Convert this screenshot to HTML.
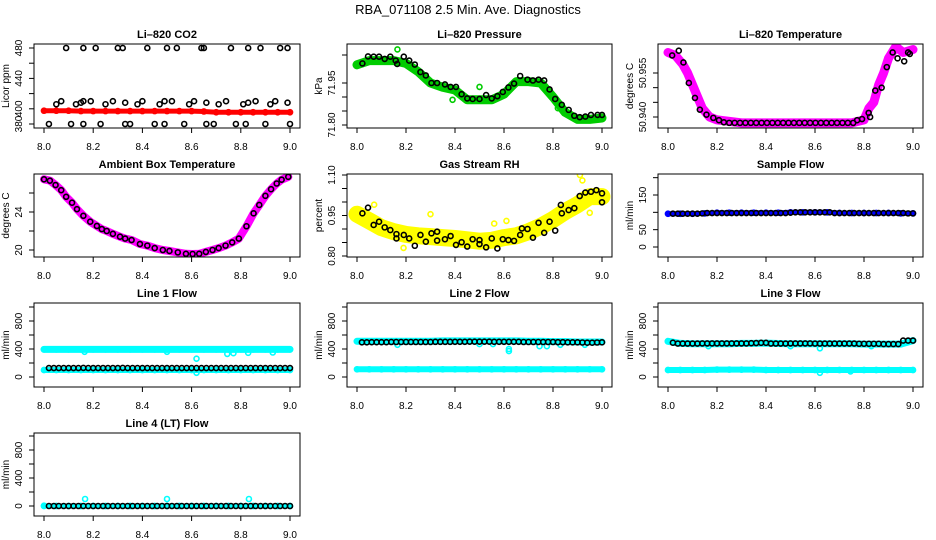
<!DOCTYPE html>
<html><head><meta charset="utf-8"><style>
html,body{margin:0;padding:0;background:#fff;}
svg{display:block;font-family:"Liberation Sans",Arial,sans-serif;}
</style></head><body>
<svg id="chart" width="936" height="540" viewBox="0 0 936 540">
<text x="468" y="14" text-anchor="middle" font-size="13">RBA_071108  2.5 Min. Ave. Diagnostics</text>
</svg>
<script>
// ---------- time axes ----------
const T21 = [8.0,8.05,8.1,8.15,8.2,8.25,8.3,8.35,8.4,8.45,8.5,8.55,8.6,8.65,8.7,8.75,8.8,8.85,8.9,8.95,9.0];
const T50 = [8.02,8.04,8.06,8.08,8.1,8.12,8.14,8.16,8.18,8.2,8.22,8.24,8.26,8.28,8.3,8.32,8.34,8.36,8.38,8.4,8.42,8.44,8.46,8.48,8.5,8.52,8.54,8.56,8.58,8.6,8.62,8.64,8.66,8.68,8.7,8.72,8.74,8.76,8.78,8.8,8.82,8.84,8.86,8.88,8.9,8.92,8.94,8.96,8.98,9.0];
const xTicks = [8.0,8.2,8.4,8.6,8.8,9.0];
const xTickLabels = ["8.0","8.2","8.4","8.6","8.8","9.0"];

// ---------- CO2 ----------
const co2Red = [397.5,397.5,397.5,397,397,397,397,397,397,397,397,397,397,396.5,395.5,395.5,395.5,395.5,395.5,395.5,395.5];
const co2BlackT = [8.09,8.16,8.21,8.30,8.32,8.42,8.50,8.54,8.64,8.65,8.76,8.83,8.88,8.96,8.99,
 8.02,8.11,8.16,8.23,8.33,8.35,8.45,8.49,8.57,8.66,8.69,8.78,8.82,8.90,9.0,
 8.05,8.07,8.13,8.15,8.16,8.19,8.25,8.28,8.33,8.38,8.40,8.47,8.49,8.52,8.59,8.61,8.66,8.71,8.74,8.81,8.83,8.86,8.92,8.94,8.99];
const co2BlackV = [480,480,480,480,480,480,480,480,480,480,480,480,480,480,480,
 380,380,380,380,380,380,380,380,380,380,380,380,380,380,380,
 406,410,406,408,410,410,406,410,408,406,410,406,410,410,406,410,408,406,410,406,408,410,406,410,408];

// ---------- Pressure ----------
const presGreen = [72.015,72.03,72.03,72.03,72.02,71.99,71.95,71.935,71.925,71.89,71.89,71.89,71.91,71.955,71.955,71.95,71.90,71.845,71.82,71.82,71.825];
const presGreenOutT = [8.165,8.5,8.39,8.82];
const presGreenOutV = [72.07,71.936,71.89,71.86];
const presBlackT = [8.022,8.045,8.068,8.09,8.113,8.136,8.158,8.164,8.191,8.213,8.236,8.259,8.281,8.304,8.327,8.359,8.382,8.404,8.427,8.45,8.472,8.5,8.527,8.55,8.573,8.595,8.618,8.641,8.666,8.696,8.718,8.741,8.764,8.786,8.809,8.836,8.864,8.887,8.909,8.932,8.955,8.982,9.0];
const presBlackV = [72.02,72.045,72.044,72.044,72.036,72.044,72.03,72.018,72.044,72.03,72.016,71.989,71.977,71.95,71.95,71.945,71.936,71.936,71.91,71.895,71.893,71.893,71.907,71.895,71.903,71.918,71.934,71.948,71.975,71.962,71.959,71.962,71.959,71.927,71.893,71.872,71.854,71.833,71.828,71.83,71.836,71.836,71.836];

// ---------- Li-820 Temperature ----------
const ltT = [8.0,8.03,8.06,8.08,8.1,8.12,8.14,8.17,8.2,8.25,8.3,8.4,8.5,8.6,8.7,8.75,8.8,8.82,8.84,8.86,8.88,8.9,8.93,8.96,9.0];
const ltMag = [50.962,50.961,50.958,50.955,50.951,50.947,50.943,50.940,50.939,50.9385,50.938,50.938,50.938,50.938,50.938,50.938,50.939,50.943,50.945,50.951,50.955,50.960,50.964,50.962,50.963];
const ltBlackT = [8.017,8.044,8.063,8.085,8.11,8.13,8.157,8.185,8.208,8.228,8.25,8.272,8.294,8.316,8.338,8.36,8.382,8.404,8.426,8.448,8.47,8.492,8.514,8.536,8.558,8.58,8.602,8.624,8.646,8.668,8.69,8.712,8.734,8.756,8.772,8.792,8.819,8.825,8.846,8.872,8.893,8.917,8.937,8.964,8.98,8.987];
const ltBlackV = [50.961,50.9626,50.9586,50.9516,50.9465,50.9425,50.9408,50.9397,50.9389,50.9382,50.938,50.938,50.938,50.938,50.938,50.938,50.938,50.938,50.938,50.938,50.938,50.938,50.938,50.938,50.938,50.938,50.938,50.938,50.938,50.938,50.938,50.938,50.938,50.938,50.9389,50.9393,50.9414,50.940,50.949,50.950,50.957,50.962,50.960,50.959,50.962,50.9615];

// ---------- Ambient Box Temperature ----------
const ambT = [8.0,8.024,8.047,8.07,8.09,8.114,8.134,8.16,8.188,8.215,8.235,8.255,8.28,8.309,8.33,8.356,8.39,8.42,8.45,8.483,8.51,8.544,8.577,8.604,8.631,8.658,8.685,8.71,8.738,8.765,8.792,8.823,8.852,8.875,8.9,8.923,8.946,8.966,8.993];
const ambV = [27.44,27.3,26.84,26.3,25.6,24.98,24.3,23.6,22.98,22.53,22.2,22.0,21.7,21.4,21.2,21.05,20.63,20.46,20.2,20.0,19.9,19.75,19.6,19.58,19.6,19.8,20.0,20.2,20.46,20.8,21.2,22.5,23.86,24.74,25.7,26.4,27.0,27.4,27.7];

// ---------- Gas Stream RH ----------
const rhYellow = [0.955,0.93,0.905,0.89,0.88,0.875,0.872,0.868,0.865,0.86,0.855,0.858,0.868,0.875,0.89,0.91,0.935,0.965,0.99,1.02,1.02];
const rhYellowOutT = [8.07,8.30,8.91,8.92,8.61,8.95,8.19,8.56];
const rhYellowOutV = [0.99,0.955,1.10,1.08,0.93,0.96,0.83,0.92];
const rhBlackT = [8.022,8.045,8.068,8.09,8.113,8.136,8.161,8.161,8.191,8.213,8.236,8.259,8.281,8.304,8.327,8.327,8.359,8.382,8.404,8.427,8.45,8.472,8.5,8.5,8.527,8.55,8.573,8.595,8.618,8.641,8.666,8.673,8.696,8.718,8.741,8.764,8.786,8.809,8.832,8.836,8.864,8.887,8.909,8.932,8.955,8.977,9.0,9.0];
const rhBlackV = [0.958,0.979,0.915,0.927,0.906,0.896,0.881,0.865,0.878,0.865,0.838,0.878,0.853,0.884,0.89,0.857,0.862,0.874,0.841,0.851,0.835,0.862,0.859,0.844,0.832,0.865,0.828,0.862,0.859,0.856,0.878,0.902,0.9,0.868,0.923,0.886,0.927,0.894,0.989,0.958,0.970,0.977,1.022,1.035,1.038,1.044,1.032,0.999];

// ---------- Sample Flow ----------
const sampBlue = [96,96,96,97,99,99,99,99,99,99,100,100,100,100,98,98,98,98,98,97,97];
const sampBlack = [96,96,96,96,96,96,97,98,98,98,98,98,98,98,98,98,98,98,98,98,98,98,98,98,99,100,100,100,100,100,100,100,100,98,98,98,98,98,98,98,98,98,98,98,98,98,98,98,97,97];

// ---------- Line flows ----------
const l1CyanTop = [395,395,395,395,395,395,395,395,395,395,395,395,395,395,395,395,395,395,395,395,395];
const l1CyanBot = [100,100,100,100,100,100,100,100,100,100,100,100,100,100,100,100,100,100,100,100,100];
const l1OutT = [8.165,8.5,8.62,8.62,8.745,8.77,8.83,8.93];
const l1OutV = [360,360,262,60,330,340,345,350];
const l1Black = [128,128,128,128,128,128,128,130,128,128,128,128,128,128,128,130,128,128,128,128,128,128,128,128,128,128,128,128,128,128,128,128,128,128,128,128,128,128,128,128,128,128,128,128,128,128,128,128,128,128];

const l2CyanTop = [510,510,510,510,510,510,510,515,515,515,515,515,515,515,510,510,505,505,500,500,500];
const l2CyanBot = [110,110,110,110,110,110,110,110,110,110,110,110,110,110,110,110,110,110,110,110,110];
const l2OutT = [8.165,8.5,8.555,8.62,8.62,8.745,8.775,8.83,8.93];
const l2OutV = [460,470,470,400,370,440,440,460,460];
const l2Black = [495,495,497,497,497,497,500,500,500,500,500,500,500,500,500,502,502,502,502,503,503,503,505,505,505,505,505,503,503,503,503,503,503,500,500,500,500,500,500,500,498,498,495,495,495,493,490,490,493,495];

const l3CyanTop = [510,480,475,475,475,475,480,480,485,478,475,475,475,475,475,475,470,470,470,470,520];
const l3CyanBot = [100,100,100,100,105,105,105,105,100,100,100,100,100,100,100,100,100,100,100,100,100];
const l3OutT = [8.165,8.5,8.62,8.62,8.83,8.745];
const l3OutV = [440,440,410,60,440,80];
const l3Black = [490,478,478,478,478,478,480,480,480,480,480,480,480,480,480,480,483,485,488,488,478,478,478,478,480,480,480,480,480,478,478,478,478,478,478,478,478,478,475,475,475,475,475,470,470,470,470,520,520,520];

const l4Cyan = [0,0,0,0,0,0,0,0,0,0,0,0,0,0,0,0,0,0,0,0,0];
const l4OutT = [8.0,8.167,8.5,8.833];
const l4OutV = [5,100,100,100];
const l4Black = [0,0,0,0,0,0,0,0,0,0,0,0,0,0,0,0,0,0,0,0,0,0,0,0,0,0,0,0,0,0,0,0,0,0,0,0,0,0,0,0,0,0,0,0,0,0,0,0,0,0];

// ---------- layout ----------
const COLS = [[34,300],[347,612],[658,923]];
const ROWS = [[44,128],[174,257],[303,387],[433,516]];
const NS = "http://www.w3.org/2000/svg";
const svg = document.getElementById('chart');
function mk(tag, attrs, parent){
  const e = document.createElementNS(NS, tag);
  for (const k in attrs) e.setAttribute(k, attrs[k]);
  (parent||svg).appendChild(e);
  return e;
}
const flowTicks = [0,200,400,600,800,1000];
const flowLabels = ["0","","400","","800",""];
const panels = [
 {c:0,r:0,name:'co2',title:'Li\u2013820 CO2',yl:'Licor ppm',ref:[380,124,480,48],ticks:[380,400,420,440,460,480],labels:["380","400","","440","","480"],
  series:[{kind:'band',t:T21,v:co2Red,col:'#ff0000',w:5,name:'co2-red'},{kind:'pts',t:co2BlackT,v:co2BlackV,col:'#000',name:'co2-black'}]},
 {c:1,r:0,name:'pressure',title:'Li\u2013820 Pressure',yl:'kPa',ref:[71.80,125,71.95,83],ticks:[71.80,71.85,71.90,71.95,72.05],labels:["71.80","","","71.95",""],
  series:[{kind:'band',t:T21,v:presGreen,col:'#00cc00',w:9,name:'pressure-green'},{kind:'pts',t:presGreenOutT,v:presGreenOutV,col:'#00cc00',name:'pressure-green-outliers'},{kind:'pts',t:presBlackT,v:presBlackV,col:'#000',name:'pressure-black'}]},
 {c:2,r:0,name:'li820-temp',title:'Li\u2013820 Temperature',yl:'degrees C',ref:[50.940,117,50.955,73],ticks:[50.940,50.945,50.950,50.955],labels:["50.940","","","50.955"],
  series:[{kind:'band',t:ltT,v:ltMag,col:'#ff00ff',w:9,name:'li820-temp-magenta'},{kind:'pts',t:ltBlackT,v:ltBlackV,col:'#000',name:'li820-temp-black'}]},
 {c:0,r:1,name:'ambient',title:'Ambient Box Temperature',yl:'degrees C',ref:[20,250,24,212],ticks:[20,22,24,26],labels:["20","","24",""],
  series:[{kind:'band',t:ambT,v:ambV,col:'#ff00ff',w:8,name:'ambient-magenta'},{kind:'pts',t:ambT,v:ambV,col:'#000',name:'ambient-black'}]},
 {c:1,r:1,name:'rh',title:'Gas Stream RH',yl:'percent',ref:[0.80,256,1.10,175],ticks:[0.80,0.85,0.90,0.95,1.00,1.05,1.10],labels:["0.80","","","0.95","","","1.10"],
  series:[{kind:'band',t:T21,v:rhYellow,col:'#ffff00',w:17,name:'rh-yellow'},{kind:'pts',t:rhYellowOutT,v:rhYellowOutV,col:'#ffff00',name:'rh-yellow-outliers'},{kind:'pts',t:rhBlackT,v:rhBlackV,col:'#000',name:'rh-black'}]},
 {c:2,r:1,name:'sample-flow',title:'Sample Flow',yl:'ml/min',ref:[0,247,150,195],ticks:[0,50,100,150,200],labels:["0","50","","150",""],
  series:[{kind:'band',t:T21,v:sampBlue,col:'#0000ff',w:5,name:'sample-blue'},{kind:'pts',t:T50,v:sampBlack,col:'#000',name:'sample-black'}]},
 {c:0,r:2,name:'line1',title:'Line 1 Flow',yl:'ml/min',ref:[0,377,800,321],ticks:flowTicks,labels:flowLabels,
  series:[{kind:'band',t:T21,v:l1CyanTop,col:'#00ffff',w:7,name:'line1-cyan-top'},{kind:'band',t:T21,v:l1CyanBot,col:'#00ffff',w:6,name:'line1-cyan-bottom'},{kind:'pts',t:l1OutT,v:l1OutV,col:'#00ffff',name:'line1-cyan-outliers'},{kind:'pts',t:T50,v:l1Black,col:'#000',name:'line1-black'}]},
 {c:1,r:2,name:'line2',title:'Line 2 Flow',yl:'ml/min',ref:[0,377,800,321],ticks:flowTicks,labels:flowLabels,
  series:[{kind:'band',t:T21,v:l2CyanTop,col:'#00ffff',w:7,name:'line2-cyan-top'},{kind:'band',t:T21,v:l2CyanBot,col:'#00ffff',w:6,name:'line2-cyan-bottom'},{kind:'pts',t:l2OutT,v:l2OutV,col:'#00ffff',name:'line2-cyan-outliers'},{kind:'pts',t:T50,v:l2Black,col:'#000',name:'line2-black'}]},
 {c:2,r:2,name:'line3',title:'Line 3 Flow',yl:'ml/min',ref:[0,377,800,321],ticks:flowTicks,labels:flowLabels,
  series:[{kind:'band',t:T21,v:l3CyanTop,col:'#00ffff',w:7,name:'line3-cyan-top'},{kind:'band',t:T21,v:l3CyanBot,col:'#00ffff',w:6,name:'line3-cyan-bottom'},{kind:'pts',t:l3OutT,v:l3OutV,col:'#00ffff',name:'line3-cyan-outliers'},{kind:'pts',t:T50,v:l3Black,col:'#000',name:'line3-black'}]},
 {c:0,r:3,name:'line4',title:'Line 4 (LT) Flow',yl:'ml/min',ref:[0,506,800,450],ticks:flowTicks,labels:flowLabels,
  series:[{kind:'band',t:T21,v:l4Cyan,col:'#00ffff',w:5,name:'line4-cyan'},{kind:'pts',t:l4OutT,v:l4OutV,col:'#00ffff',name:'line4-cyan-outliers'},{kind:'pts',t:T50,v:l4Black,col:'#000',name:'line4-black'}]}
];

panels.forEach(p => {
  const L = COLS[p.c][0], R = COLS[p.c][1], T = ROWS[p.r][0], B = ROWS[p.r][1];
  const xs = t => (L+10) + (t-8)*((R-10)-(L+10));
  const ys = v => p.ref[1] + (v-p.ref[0])*(p.ref[3]-p.ref[1])/(p.ref[2]-p.ref[0]);
  const g = mk('g', {});
  
  
  const clip = mk('clipPath', {id:'clip-'+p.name}, g);
  mk('rect', {x:L, y:T, width:R-L, height:B-T}, clip);
  // title
  const tt = mk('text', {x:(L+R)/2, y:T-6, 'text-anchor':'middle', 'font-size':11, 'font-weight':'bold'}, g);
  tt.textContent = p.title;
  
  
  // data
  const dg = mk('g', {'clip-path':'url(#clip-'+p.name+')'}, g);
  
  
  p.series.forEach(s => {
    if (s.kind === 'band') {
      const pts = s.t.map((t,i) => xs(t).toFixed(1)+','+ys(s.v[i]).toFixed(1)).join(' ');
      const pl = mk('polyline', {points:pts, fill:'none', stroke:s.col, 'stroke-width':s.w, 'stroke-linejoin':'round', 'stroke-linecap':'round'}, dg);
      
      
      s.t.forEach((t,i) => {
        const c = mk('circle', {cx:xs(t), cy:ys(s.v[i]), r:2.6, fill:'none', stroke:s.col, 'stroke-width':1.5}, dg);
        
        
      });
    } else {
      s.t.forEach((t,i) => {
        const c = mk('circle', {cx:xs(t), cy:ys(s.v[i]), r:2.5, fill:'none', stroke:s.col, 'stroke-width':1.6}, dg);
        
        
      });
    }
  });
  // box
  const bx = mk('rect', {x:L, y:T, width:R-L, height:B-T, fill:'none', stroke:'#000', 'stroke-width':1}, g);
  
  
  // x axis
  const xa = mk('g', {}, g);
  
  
  xTicks.forEach((t,i) => {
    mk('line', {x1:xs(t), x2:xs(t), y1:B, y2:B+5, stroke:'#000'}, xa);
    const tx = mk('text', {x:xs(t), y:B+22, 'text-anchor':'middle', 'font-size':10}, xa);
    tx.textContent = xTickLabels[i];
  });
  // y axis
  const ya = mk('g', {}, g);
  
  
  p.ticks.forEach((v,i) => {
    const y = ys(v);
    mk('line', {x1:L-5, x2:L, y1:y, y2:y, stroke:'#000'}, ya);
    if (p.labels[i]) {
      const tx = mk('text', {x:0, y:0, 'text-anchor':'middle', 'font-size':10, transform:'translate('+(L-12)+','+y+') rotate(-90)'}, ya);
      tx.textContent = p.labels[i];
    }
  });
  const yl = mk('text', {x:0, y:0, 'text-anchor':'middle', 'font-size':10, transform:'translate('+(L-25)+','+((T+B)/2)+') rotate(-90)'}, g);
  yl.textContent = p.yl;
  
  
});
</script>
</body></html>
